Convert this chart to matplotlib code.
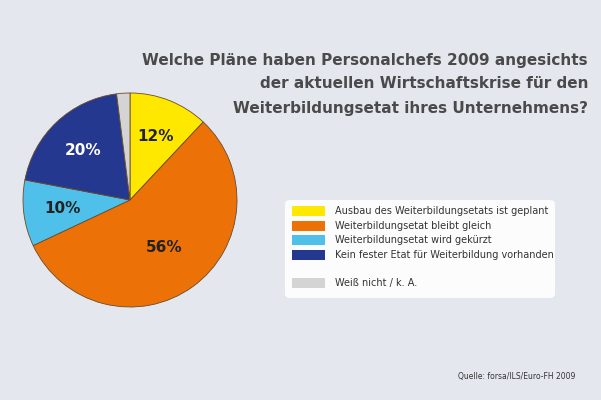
import matplotlib
matplotlib.use("Agg")
import matplotlib.pyplot as plt
import numpy as np
from matplotlib.patches import FancyBboxPatch, Rectangle

# Data
labels = ["Ausbau des Weiterbildungsetats ist geplant",
          "Weiterbildungsetat bleibt gleich",
          "Weiterbildungsetat wird gekürzt",
          "Kein fester Etat für Weiterbildung vorhanden",
          "Weiß nicht / k. A."]
values = [12, 56, 10, 20, 2]
colors = ["#ffe800", "#ec7208", "#4fc0ea", "#24388f", "#d4d4d4"]
pct_colors = ["#222222", "#222222", "#222222", "white", None]

W, H = 601, 400
fig = plt.figure(figsize=(W / 100, H / 100), dpi=100)
fig.patch.set_facecolor("#e4e8ee")

# pie
cx, cy, r = 130, 200, 107
ax = fig.add_axes([(cx - r) / W, (H - cy - r) / H, 2 * r / W, 2 * r / H])
wedges, _ = ax.pie(values, colors=colors, startangle=90, counterclock=False,
                   wedgeprops=dict(edgecolor="#6b4a2a", linewidth=0.6))
ax.set_xlim(-1, 1)
ax.set_ylim(-1, 1)
ax.set_aspect("auto")
for w, v, c in zip(wedges, values, pct_colors):
    if c is None:
        continue
    ang = np.deg2rad((w.theta1 + w.theta2) / 2)
    d = 0.64 if v < 50 else 0.55
    ax.text(d * np.cos(ang), d * np.sin(ang), f"{v}%", ha="center", va="center",
            fontsize=11, fontweight="bold", color=c)

# title
title = ["Welche Pläne haben Personalchefs 2009 angesichts",
         "der aktuellen Wirtschaftskrise für den",
         "Weiterbildungsetat ihres Unternehmens?"]
for i, line in enumerate(title):
    fig.text(588 / W, 1 - (60 + 24 * i) / H, line, ha="right", va="center",
             fontsize=11, fontweight="bold", color="#4a4a4a", family="DejaVu Sans")

# legend box
box = FancyBboxPatch((285 / W, 1 - 298 / H), 270 / W, 98 / H,
                     boxstyle="round,pad=0,rounding_size=0.01",
                     transform=fig.transFigure, facecolor="white",
                     edgecolor="none", alpha=0.9)
fig.patches.append(box)
ys = [211, 226, 240, 255, 283]
for lab, col, y in zip(labels, colors, ys):
    fig.patches.append(Rectangle((292 / W, 1 - (y + 5) / H), 33 / W, 10 / H,
                                 transform=fig.transFigure, facecolor=col,
                                 edgecolor="none"))
    fig.text(335 / W, 1 - y / H, lab, ha="left", va="center",
             fontsize=7.0, color="#333333")

fig.text(575 / W, 1 - 377 / H, "Quelle: forsa/ILS/Euro-FH 2009", ha="right",
         va="center", fontsize=5.5, color="#333333")

fig.savefig("out.png", dpi=100, facecolor=fig.get_facecolor())
